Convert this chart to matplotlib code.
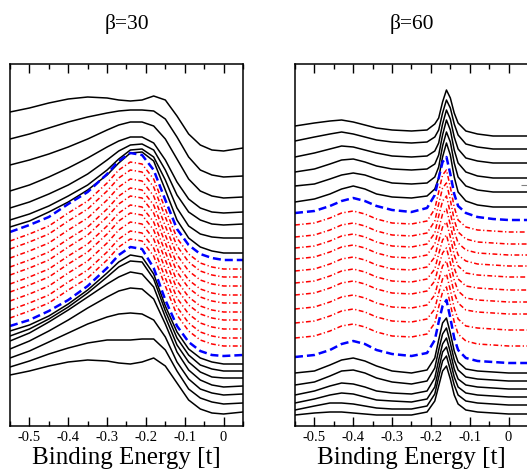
import matplotlib
matplotlib.use("Agg")
import matplotlib.pyplot as plt
from matplotlib.ticker import MultipleLocator, FuncFormatter

plt.rcParams["font.family"] = ["Liberation Serif", "DejaVu Serif"]
plt.rcParams["axes.unicode_minus"] = False

# beta = 30 panel: energies and stacked curves (offset units, larger = lower on the page)
energy_b30 = [-0.55, -0.50, -0.45, -0.40, -0.35, -0.30, -0.27, -0.24, -0.21,
              -0.18, -0.15, -0.12, -0.09, -0.06, -0.03, 0.00, 0.05]

b30_black_upper = [
    [112, 108, 103, 99, 97, 98, 100, 101, 100, 96, 100, 116, 134, 145, 150, 151, 148],
    [139, 134, 128, 122, 117, 113, 111, 110, 110, 111, 119, 137, 157, 170, 175, 177, 176],
    [165, 160, 154, 147, 139, 130, 125, 122, 122, 126, 139, 159, 179, 191, 196, 198, 197],
    [191, 185, 177, 168, 158, 147, 141, 137, 137, 143, 160, 182, 199, 208, 212, 213, 212],
    [208, 202, 194, 185, 174, 160, 151, 145, 144, 150, 170, 195, 212, 220, 224, 225, 224],
    [220, 214, 206, 196, 185, 170, 159, 150, 149, 157, 180, 208, 226, 234, 237, 238, 238],
    [227, 221, 212, 202, 190, 175, 163, 153, 152, 161, 190, 220, 238, 247, 251, 253, 253],
]
b30_blue_upper = [232, 225, 217, 204, 192, 174, 161, 153, 155, 170, 200, 229, 245, 254, 258, 260, 260]
b30_red = [
    [241, 234, 226, 213, 201, 183, 170, 162, 164, 179, 209, 238, 254, 263, 267, 269, 269],
    [249, 242, 234, 221, 209, 191, 178, 170, 172, 187, 217, 246, 262, 271, 275, 277, 277],
    [258, 251, 243, 230, 218, 200, 187, 179, 181, 196, 226, 255, 271, 280, 284, 286, 286],
    [267, 260, 252, 239, 227, 209, 196, 188, 190, 205, 235, 264, 280, 289, 293, 295, 295],
    [275, 268, 260, 247, 235, 217, 204, 196, 198, 213, 243, 272, 288, 297, 301, 303, 303],
    [284, 277, 269, 256, 244, 226, 213, 205, 207, 222, 252, 281, 297, 306, 310, 312, 312],
    [292, 285, 277, 264, 252, 234, 221, 213, 215, 230, 260, 289, 305, 314, 318, 320, 320],
    [301, 294, 286, 273, 261, 243, 230, 222, 224, 239, 269, 298, 314, 323, 327, 329, 329],
    [310, 303, 295, 282, 270, 252, 239, 231, 233, 248, 278, 307, 323, 332, 336, 338, 338],
    [318, 311, 303, 290, 278, 260, 247, 239, 241, 256, 286, 315, 331, 340, 344, 346, 346],
]
b30_blue_lower = [326, 320, 311, 300, 286, 268, 255, 247, 249, 268, 300, 326, 342, 351, 355, 356, 355]
b30_black_lower = [
    [331, 325, 316, 304, 290, 273, 262, 255, 257, 274, 306, 332, 349, 358, 362, 364, 364],
    [336, 329, 319, 307, 293, 277, 267, 261, 262, 279, 311, 338, 355, 365, 369, 371, 371],
    [341, 333, 322, 310, 297, 284, 277, 272, 274, 287, 317, 345, 362, 372, 377, 378, 378],
    [349, 341, 331, 320, 308, 297, 291, 288, 289, 299, 324, 352, 370, 380, 385, 387, 386],
    [358, 351, 342, 333, 324, 317, 314, 313, 314, 320, 337, 362, 379, 389, 393, 395, 394],
    [367, 361, 354, 348, 343, 340, 340, 340, 339, 339, 350, 371, 389, 398, 402, 404, 403],
    [375, 371, 366, 362, 360, 361, 363, 364, 362, 358, 366, 383, 400, 409, 413, 414, 412],
]

# beta = 60 panel
energy_b60 = [-0.55, -0.50, -0.46, -0.43, -0.40, -0.37, -0.34, -0.30, -0.25, -0.21, -0.19,
              -0.18, -0.17, -0.16, -0.15, -0.14, -0.13, -0.11, -0.08, -0.04, 0.00, 0.05]

b60_black_upper = [
    [126, 123, 121, 120, 122, 125, 128, 130, 131, 130, 124, 118, 102, 90, 98, 113, 123, 131, 134, 136, 136, 136],
    [141, 137, 134, 132, 134, 137, 140, 142, 143, 142, 137, 130, 113, 100, 108, 124, 135, 144, 147, 149, 149, 149],
    [157, 153, 149, 146, 147, 150, 153, 156, 157, 156, 151, 143, 124, 110, 119, 137, 149, 158, 161, 163, 163, 163],
    [172, 169, 164, 160, 159, 162, 166, 169, 170, 169, 164, 155, 135, 120, 130, 150, 163, 172, 176, 178, 178, 178],
    [186, 184, 179, 175, 173, 175, 179, 183, 184, 183, 177, 167, 146, 132, 142, 163, 177, 186, 190, 192, 192, 192],
    [202, 199, 194, 189, 186, 189, 194, 197, 198, 196, 189, 178, 157, 143, 155, 177, 192, 201, 205, 207, 207, 207],
]
b60_blue_upper = [213, 211, 206, 201, 198, 201, 206, 210, 212, 208, 195, 178, 162, 157, 174, 194, 206, 213, 217, 219, 220, 220]
b60_red = [
    [225, 223, 218, 213, 211, 214, 219, 223, 224, 221, 209, 192, 175, 170, 187, 207, 220, 227, 230, 231, 232, 232],
    [237, 235, 230, 225, 223, 226, 231, 235, 236, 233, 221, 204, 188, 183, 200, 220, 232, 239, 242, 243, 244, 244],
    [248, 246, 241, 236, 234, 237, 242, 246, 247, 244, 233, 216, 201, 196, 213, 231, 243, 250, 253, 254, 255, 255],
    [259, 257, 252, 247, 245, 248, 253, 257, 258, 255, 244, 229, 214, 209, 225, 243, 255, 261, 264, 265, 266, 266],
    [271, 269, 264, 259, 257, 260, 265, 269, 270, 267, 257, 241, 227, 222, 237, 255, 266, 273, 275, 276, 277, 277],
    [283, 281, 276, 271, 269, 272, 277, 281, 282, 279, 269, 254, 240, 235, 250, 268, 279, 286, 288, 289, 290, 290],
    [295, 293, 288, 283, 281, 284, 289, 293, 294, 291, 281, 266, 253, 248, 263, 280, 291, 298, 300, 301, 302, 302],
    [309, 307, 302, 297, 295, 298, 303, 307, 308, 305, 295, 280, 266, 261, 276, 293, 303, 310, 312, 313, 314, 314],
    [323, 321, 316, 311, 309, 312, 317, 321, 322, 319, 309, 293, 279, 274, 290, 308, 319, 326, 328, 329, 330, 330],
    [338, 336, 331, 326, 324, 327, 332, 336, 337, 334, 323, 307, 292, 287, 304, 322, 334, 341, 344, 345, 346, 346],
]
b60_blue_lower = [357, 355, 350, 344, 341, 344, 350, 354, 356, 353, 340, 322, 306, 300, 318, 338, 350, 358, 361, 362, 363, 363]
b60_black_lower = [
    [373, 371, 365, 360, 358, 361, 366, 371, 373, 370, 358, 340, 323, 318, 333, 351, 362, 369, 371, 372, 373, 373],
    [385, 382, 376, 371, 370, 373, 378, 382, 384, 381, 368, 350, 334, 328, 343, 360, 370, 377, 379, 380, 381, 381],
    [395, 391, 386, 383, 384, 387, 391, 393, 394, 391, 378, 360, 344, 338, 352, 369, 379, 385, 387, 388, 389, 389],
    [403, 399, 395, 393, 394, 397, 400, 401, 402, 399, 387, 369, 352, 347, 361, 377, 387, 393, 395, 396, 397, 397],
    [410, 406, 403, 403, 404, 406, 408, 409, 409, 406, 394, 377, 361, 356, 370, 385, 395, 401, 403, 404, 405, 405],
    [415, 413, 412, 412, 413, 414, 415, 415, 415, 412, 401, 386, 371, 366, 379, 395, 404, 410, 412, 413, 414, 414],
]

BLACK = dict(color="black", lw=1.1, solid_joinstyle="round")
BLUE = dict(color="#0000ff", lw=1.8, dashes=(3.2, 1.6))
RED = dict(color="#ff0000", lw=1.1, dashes=(3.2, 1.6, 0.8, 1.6))


def energy_label(v, pos):
    if abs(v) < 1e-9:
        return "0"
    return f"{v:.1f}"


def draw_panel(ax, energy, upper, blue_up, red, blue_low, lower, title):
    for curve in upper:
        ax.plot(energy, curve, **BLACK)
    for curve in red:
        ax.plot(energy, curve, **RED)
    for curve in lower:
        ax.plot(energy, curve, **BLACK)
    ax.plot(energy, blue_up, **BLUE)
    ax.plot(energy, blue_low, **BLUE)

    ax.set_xlim(-0.55, 0.05)
    ax.set_ylim(426, 64)
    ax.xaxis.set_major_locator(MultipleLocator(0.1))
    ax.xaxis.set_minor_locator(MultipleLocator(0.05))
    ax.xaxis.set_major_formatter(FuncFormatter(energy_label))
    ax.tick_params(axis="x", which="both", direction="in", top=True, bottom=True,
                   width=1.0, pad=3.5, labelsize=10.5)
    ax.tick_params(axis="x", which="major", length=6.5)
    ax.tick_params(axis="x", which="minor", length=3.6)
    ax.set_yticks([])
    for sp in ax.spines.values():
        sp.set_linewidth(1.1)
    ax.set_xlabel("Binding Energy [t]", fontsize=18, labelpad=2.5)
    ax.set_title(title, fontsize=15.5, pad=25.5)


fig = plt.figure(figsize=(5.27, 4.70), dpi=100)
ax1 = fig.add_axes([10 / 527, 44 / 470, 233 / 527, 362 / 470])
ax2 = fig.add_axes([295 / 527, 44 / 470, 233 / 527, 362 / 470])

draw_panel(ax1, energy_b30, b30_black_upper, b30_blue_upper, b30_red,
           b30_blue_lower, b30_black_lower, "β=30")
draw_panel(ax2, energy_b60, b60_black_upper, b60_blue_upper, b60_red,
           b60_blue_lower, b60_black_lower, "β=60")

# stray grey y tick on the right panel
ax2.set_yticks([185])
ax2.tick_params(axis="y", direction="in", left=True, right=True, length=5,
                color="grey", labelleft=False)

fig.savefig("out.png", dpi=100)
